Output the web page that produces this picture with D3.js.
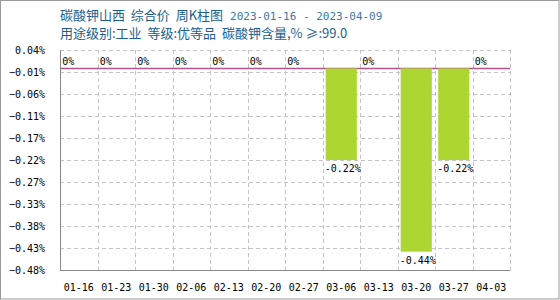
<!DOCTYPE html>
<html>
<head>
<meta charset="utf-8">
<script src="https://cdn.jsdelivr.net/npm/d3@7"></script>
<style>
  body { margin: 0; background: #fff; }
  svg { display: block; }
  text { white-space: pre; }
</style>
</head>
<body>
<script>
// chart data
var weeks = ["01-16", "01-23", "01-30", "02-06", "02-13", "02-20", "02-27",
             "03-06", "03-13", "03-20", "03-27", "04-03"];
var changes = [0, 0, 0, 0, 0, 0, 0, -0.22, 0, -0.44, -0.22, 0];
var titleParts = ["碳酸钾山西  综合价  周K柱图", "2023-01-16 - 2023-04-09"];
var subtitle = "用途级别:工业  等级:优等品  碳酸钾含量,% ≥:99.0";

var W = 560, H = 300;
var margin = {top: 50, right: 50, bottom: 30, left: 60},
    width = W - margin.left - margin.right,
    height = H - margin.top - margin.bottom;

var mono = "'DejaVu Sans Mono', 'Liberation Mono', monospace";
var cjk = "'Noto Sans CJK SC', sans-serif";

var svg = d3.select("body").append("svg")
    .attr("width", W)
    .attr("height", H);

// outer frame
svg.append("rect")
  .attr("x", 0.5).attr("y", 0.5)
  .attr("width", W - 1.5).attr("height", H - 1.5)
  .attr("fill", "#fff")
  .attr("stroke", "#999");

// titles
var t1 = svg.append("text")
  .attr("x", 60).attr("y", 20)
  .style("font-size", "13px");
t1.append("tspan")
  .attr("fill", "#1b5e8e")
  .style("font-family", cjk)
  .text(titleParts[0]);
t1.append("tspan")
  .attr("dx", 7)
  .attr("fill", "#3779ad")
  .style("font-family", mono)
  .style("font-size", "11px")
  .text(titleParts[1]);

svg.append("text")
  .attr("x", 60).attr("y", 38)
  .attr("fill", "#1b5e8e")
  .style("font-family", cjk)
  .style("font-size", "13px")
  .text(subtitle);

var g = svg.append("g")
  .attr("transform", "translate(" + margin.left + "," + margin.top + ")");

// scales
var x = d3.scaleBand()
  .domain(weeks)
  .range([0, width])
  .paddingInner(0.17)
  .paddingOuter(0.085);

var minV = d3.min(changes);
var y = d3.scaleLinear()
  .domain([minV * 1.1, -minV * 0.1])
  .range([height, 0]);

var yTicks = d3.range(11).map(function(i) {
  return y.domain()[0] + i * (y.domain()[1] - y.domain()[0]) / 10;
});

// grid
var cell = width / weeks.length;
g.append("g").selectAll("line")
  .data(weeks.slice(1).concat(["end"]))
  .enter().append("line")
    .attr("x1", function(d, i) { return Math.round((i + 1) * cell) + 0.5; })
    .attr("x2", function(d, i) { return Math.round((i + 1) * cell) + 0.5; })
    .attr("y1", 0).attr("y2", height)
    .attr("stroke", "#c4c4c4")
    .attr("stroke-dasharray", "4,3");

g.append("g").selectAll("line")
  .data(yTicks.slice(1))
  .enter().append("line")
    .attr("x1", 0).attr("x2", width)
    .attr("y1", function(d) { return Math.round(y(d)) + 0.5; })
    .attr("y2", function(d) { return Math.round(y(d)) + 0.5; })
    .attr("stroke", "#c4c4c4")
    .attr("stroke-dasharray", "4,3");

// zero line
g.append("line")
  .attr("x1", 0).attr("x2", width)
  .attr("y1", Math.round(y(0)) + 0.5).attr("y2", Math.round(y(0)) + 0.5)
  .attr("stroke", "#b2558c")
  .attr("stroke-width", 1.5);

// bars
g.selectAll(".bar")
  .data(changes)
  .enter().append("rect")
    .attr("class", "bar")
    .attr("x", function(d, i) { return x(weeks[i]); })
    .attr("y", y(0))
    .attr("width", x.bandwidth())
    .attr("height", function(d) { return Math.max(0, y(d) - y(0)); })
    .attr("fill", "#add633");

// value labels
g.selectAll(".lbl")
  .data(changes)
  .enter().append("text")
    .attr("class", "lbl")
    .attr("x", function(d, i) { return x(weeks[i]) - 1; })
    .attr("y", function(d) { return d < 0 ? y(d) + 12 : y(0) - 3; })
    .style("font-family", mono)
    .style("font-size", "10px")
    .attr("fill", "#000")
    .text(function(d) { return (d === 0 ? "0" : d.toFixed(2)) + "%"; });

// axes lines
g.append("line")
  .attr("x1", 0.5).attr("x2", 0.5).attr("y1", 0).attr("y2", height)
  .attr("stroke", "#888");
g.append("line")
  .attr("x1", 0).attr("x2", width)
  .attr("y1", height + 0.5).attr("y2", height + 0.5)
  .attr("stroke", "#888");

// y labels
g.selectAll(".ylbl")
  .data(yTicks)
  .enter().append("text")
    .attr("x", -15)
    .attr("y", function(d) { return y(d) + 4; })
    .attr("text-anchor", "end")
    .style("font-family", mono)
    .style("font-size", "10px")
    .attr("fill", "#000")
    .text(function(d) { return d3.format(".2f")(d) + "%"; });

// x labels
g.selectAll(".xlbl")
  .data(weeks)
  .enter().append("text")
    .attr("x", function(d) { return x(d) + x.bandwidth() / 2; })
    .attr("y", height + 21)
    .attr("text-anchor", "middle")
    .style("font-family", mono)
    .style("font-size", "10px")
    .attr("fill", "#000")
    .text(function(d) { return d; });
</script>
</body>
</html>
